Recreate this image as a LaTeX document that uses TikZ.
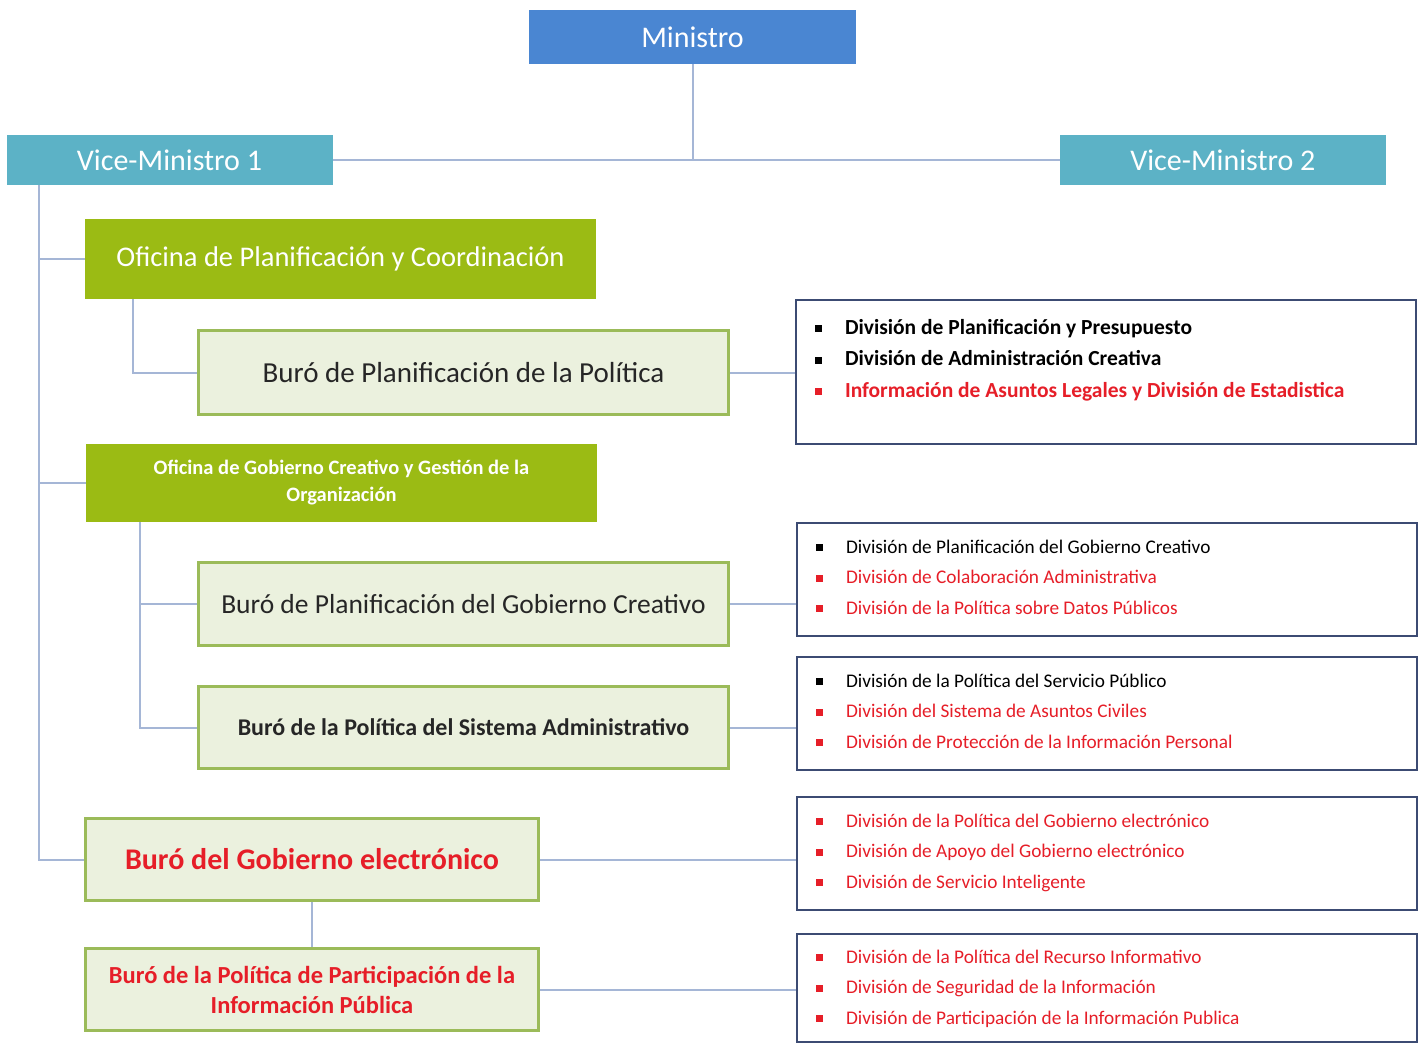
\documentclass[tikz,border=0pt]{standalone}
\usepackage{fontspec}
\setmainfont{Carlito}
\usetikzlibrary{positioning}
\definecolor{minblue}{RGB}{74,134,210}
\definecolor{viceteal}{RGB}{92,178,198}
\definecolor{ofgreen}{RGB}{155,187,20}
\definecolor{burofill}{RGB}{235,241,222}
\definecolor{buroline}{RGB}{155,187,89}
\definecolor{divline}{RGB}{60,75,115}
\definecolor{linkline}{RGB}{165,182,214}
\definecolor{divred}{RGB}{230,30,40}
\definecolor{burotext}{RGB}{38,38,38}
\newcommand{\fsz}[2]{\fontsize{#1}{#2}\selectfont}
\newcommand{\divitem}[2]{\makebox[30pt][l]{\textcolor{#1}{\rule[2pt]{7pt}{7pt}}}\textcolor{#1}{#2}\par}
\newcommand{\divlist}[3]{\parbox[c][#1][t]{582pt}{\vspace*{#2}#3}}

\begin{document}
\begin{tikzpicture}[x=1pt,y=-1pt,
  top/.style={fill=minblue,text=white,minimum width=327pt,minimum height=54pt,font=\fsz{30}{34}},
  vice/.style={fill=viceteal,text=white,minimum width=326pt,minimum height=50pt,font=\fsz{30}{34}},
  ofi/.style={fill=ofgreen,text=white,minimum width=511pt,align=center},
  buro/.style={draw=buroline,line width=3pt,fill=burofill,align=center,text=burotext},
  div/.style={draw=divline,line width=2.5pt,fill=white,minimum width=620pt,inner sep=0pt},
  link/.style={draw=linkline,line width=2pt}]
\useasboundingbox[fill=white] (0,0) rectangle (1426,1044);

% top levels
\node[top] (min) at (692.5,37) {Ministro};
\node[vice] (vm1) at (169.5,160) {Vice-Ministro 1};
\node[vice,right=727pt of vm1] (vm2) {Vice-Ministro 2};

% offices and bureaus
\node[ofi,minimum height=80pt,font=\fsz{28.5}{32}] (of1) at (340.5,259) {Oficina de Planificación y Coordinación};
\node[buro,minimum width=530pt,minimum height=84pt,font=\fsz{29}{32}] (bp1) at (463.5,372.5) {Buró de Planificación de la Política};
\node[ofi,minimum height=78pt,font=\bfseries\fsz{20.5}{27}] (of2) at (341.5,483) {Oficina de Gobierno Creativo y Gestión de la\\Organización};
\node[buro,minimum width=530pt,minimum height=83pt,font=\fsz{27.5}{32}] (bp2) at (463.5,604) {Buró de Planificación del Gobierno Creativo};
\node[buro,minimum width=530pt,minimum height=82pt,font=\bfseries\fsz{24}{28}] (bp3) at (463.5,727.5) {Buró de la Política del Sistema Administrativo};
\node[buro,minimum width=453pt,minimum height=82pt,text=divred,font=\bfseries\fsz{30}{34}] (bge) at (312,859.5) {Buró del Gobierno electrónico};
\node[buro,minimum width=453pt,minimum height=82pt,text=divred,font=\bfseries\fsz{24.5}{30},below=45pt of bge] (bpi) {Buró de la Política de Participación de la\\Información Pública};

% division lists
\node[div,minimum height=144pt] (d1) at (1106,372) {\divlist{144pt}{19pt}{\bfseries\fsz{21.5}{31.5}%
  \divitem{black}{División de Planificación y Presupuesto}%
  \divitem{black}{División de Administración Creativa}%
  \divitem{divred}{Información de Asuntos Legales y División de Estadistica}}};
\node[div,minimum height=113pt] (d2) at (1107,579.5) {\divlist{113pt}{17pt}{\fsz{19.3}{30.5}%
  \divitem{black}{División de Planificación del Gobierno Creativo}%
  \divitem{divred}{División de Colaboración Administrativa}%
  \divitem{divred}{División de la Política sobre Datos Públicos}}};
\node[div,minimum height=113pt] (d3) at (1107,713.5) {\divlist{113pt}{17pt}{\fsz{19.3}{30.5}%
  \divitem{black}{División de la Política del Servicio Público}%
  \divitem{divred}{División del Sistema de Asuntos Civiles}%
  \divitem{divred}{División de Protección de la Información Personal}}};
\node[div,minimum height=113pt] (d4) at (1107,853.5) {\divlist{113pt}{17pt}{\fsz{19.3}{30.5}%
  \divitem{divred}{División de la Política del Gobierno electrónico}%
  \divitem{divred}{División de Apoyo del Gobierno electrónico}%
  \divitem{divred}{División de Servicio Inteligente}}};
\node[div,minimum height=108pt] (d5) at (1107,988) {\divlist{108pt}{16pt}{\fsz{19.3}{30.5}%
  \divitem{divred}{División de la Política del Recurso Informativo}%
  \divitem{divred}{División de Seguridad de la Información}%
  \divitem{divred}{División de Participación de la Información Publica}}};

% connectors
\coordinate (t1) at ([xshift=33pt]vm1.south west);
\coordinate (t2) at ([xshift=48pt]of1.south west);
\coordinate (t3) at ([xshift=54pt]of2.south west);
\draw[link] (min.south) -- (min.south |- vm1.east);
\draw[link] (vm1.east) -- (vm2.west);
\draw[link] (t1) |- (bge.west);
\draw[link] (of1.west) -- (of1.west -| t1);
\draw[link] (of2.west) -- (of2.west -| t1);
\draw[link] (t2) |- (bp1.west);
\draw[link] (t3) |- (bp3.west);
\draw[link] (bp2.west) -- (bp2.west -| t3);
\draw[link] (bge) -- (bpi);
\draw[link] (bp1.east) -- (bp1.east -| d1.west);
\draw[link] (bp2.east) -- (bp2.east -| d2.west);
\draw[link] (bp3.east) -- (bp3.east -| d3.west);
\draw[link] (bge.east) -- (bge.east -| d4.west);
\draw[link] (bpi.east) -- (bpi.east -| d5.west);
\end{tikzpicture}
\end{document}
